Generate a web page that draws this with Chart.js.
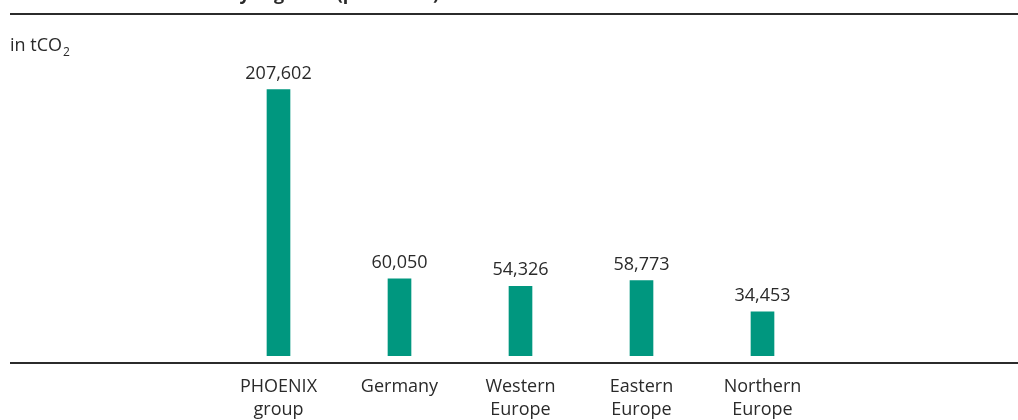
<!DOCTYPE html>
<html>
<head>
<meta charset="utf-8">
<script src="https://cdn.jsdelivr.net/npm/chart.js@4.4.0/dist/chart.umd.min.js"></script>
<style>
    html, body { margin: 0; padding: 0; background: #fff; }
    #wrap { position: relative; width: 1018px; height: 420px; overflow: hidden; }
</style>
</head>
<body>
<div id="wrap"><canvas id="regionChart" width="1018" height="420"></canvas></div>
<script>
const regions = [["PHOENIX", "group"], "Germany", ["Western", "Europe"], ["Eastern", "Europe"], ["Northern", "Europe"]];
const emissions = [207602, 60050, 54326, 58773, 34453];
const chartTitle = "Emissions by segment (pro forma)";
const unitText = "in tCO";
const unitSub = "2";

const barColor = "#00977f";
const textColor = "#2a2a2a";
const fontFamily = "'Open Sans', 'Noto Sans', sans-serif";

// rules, unit, title and value labels
const decorations = {
    id: "decorations",
    afterDraw(chart) {
        const ctx = chart.ctx;
        const area = chart.chartArea;
        ctx.save();

        // clipped title at the very top
        ctx.fillStyle = textColor;
        ctx.font = "bold 18px " + fontFamily;
        ctx.textAlign = "left";
        ctx.textBaseline = "alphabetic";
        const lead = ctx.measureText("Emissions ").width;
        ctx.fillText(chartTitle, 228 - lead, 0);

        ctx.fillStyle = "#2b2b2b";
        ctx.fillRect(10, 13, 1008, 2);
        ctx.fillRect(10, area.bottom + 6, 1008, 2);

        // unit
        ctx.fillStyle = textColor;
        ctx.font = "18px " + fontFamily;
        ctx.fillText(unitText, 10, 51);
        const w = ctx.measureText(unitText).width;
        ctx.font = "12px " + fontFamily;
        ctx.fillText(unitSub, 10 + w + 1, 56);

        // values above the bars
        ctx.font = "18px " + fontFamily;
        ctx.textAlign = "center";
        const meta = chart.getDatasetMeta(0);
        meta.data.forEach((bar, i) => {
            ctx.fillText(emissions[i].toLocaleString("en-US"), bar.x, bar.y - 11);
        });
        ctx.restore();
    },
};

new Chart(document.getElementById("regionChart"), {
    type: "bar",
    data: {
        labels: regions,
        datasets: [
            {
                data: emissions,
                backgroundColor: barColor,
                borderWidth: 0,
                barThickness: 23,
            },
        ],
    },
    options: {
        responsive: false,
        animation: false,
        layout: {
            padding: { top: 48, left: 218, right: 195, bottom: 0 },
        },
        plugins: {
            legend: { display: false },
            tooltip: { enabled: false },
        },
        scales: {
            x: {
                grid: { display: false },
                border: { display: false },
                ticks: {
                    color: textColor,
                    font: { family: fontFamily, size: 18, lineHeight: 1.3 },
                    padding: 11,
                    maxRotation: 0,
                    autoSkip: false,
                },
                afterFit: (scale) => {
                    scale.height = 64;
                },
            },
            y: {
                display: false,
                min: 0,
                max: 240000,
            },
        },
    },
    plugins: [decorations],
});
</script>
</body>
</html>
